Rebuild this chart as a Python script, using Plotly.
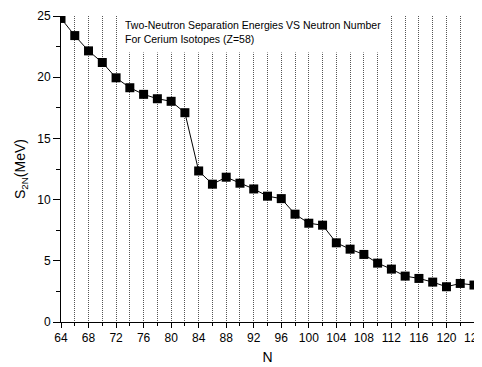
import plotly.graph_objects as go

N = [64, 66, 68, 70, 72, 74, 76, 78, 80, 82, 84, 86, 88, 90, 92, 94, 96, 98,
     100, 102, 104, 106, 108, 110, 112, 114, 116, 118, 120, 122, 124]
S2N = [24.8, 23.4, 22.15, 21.2, 19.95, 19.14, 18.6, 18.24, 18.03, 17.1, 12.34,
       11.26, 11.83, 11.34, 10.87, 10.28, 10.08, 8.81, 8.07, 7.91, 6.47, 5.95,
       5.52, 4.81, 4.32, 3.75, 3.56, 3.26, 2.88, 3.15, 3.02]

x_ticks = list(range(64, 125, 4))
y_ticks = [0, 5, 10, 15, 20, 25]

title_lines = ["Two-Neutron Separation Energies VS Neutron Number",
               "For Cerium Isotopes (Z=58)"]

FONT = "Liberation Sans, Arial, sans-serif"
GRID = "#555555"

# The page body has an 8px default margin, so the figure is sized to fit
# the 482x367 window with that offset.
fig = go.Figure()
fig.add_trace(go.Scatter(
    x=N, y=S2N, mode="lines+markers",
    line=dict(color="black", width=1),
    marker=dict(symbol="square", size=9, color="black"),
    showlegend=False,
))

fig.update_layout(
    width=474, height=359,
    margin=dict(l=53, r=8, t=8, b=45, autoexpand=False),
    paper_bgcolor="white", plot_bgcolor="white",
    font=dict(family=FONT, color="black", size=12),
    xaxis=dict(
        range=[64, 124], tickvals=x_ticks, ticktext=[str(v) for v in x_ticks],
        automargin=False,
        showline=True, linecolor="black", linewidth=1,
        ticks="outside", ticklen=5, tickcolor="black",
        ticklabeloverflow="allow",
        showgrid=True, gridcolor=GRID, griddash="1px,1px", gridwidth=1,
        minor=dict(dtick=2, tick0=64, ticks="outside", ticklen=3, tickcolor="black",
                   showgrid=True, gridcolor=GRID, griddash="1px,1px", gridwidth=1),
        zeroline=False,
        title=dict(text="N", font=dict(size=14), standoff=7),
        tickfont=dict(size=12),
    ),
    yaxis=dict(
        range=[0, 25], tickvals=y_ticks,
        automargin=False,
        showline=True, linecolor="black", linewidth=1,
        ticks="outside", ticklen=7, tickcolor="black",
        minor=dict(dtick=2.5, ticks="outside", ticklen=4, tickcolor="black"),
        showgrid=False, zeroline=False,
        title=dict(text="S<sub>2N</sub>(MeV)", font=dict(size=14), standoff=8),
        tickfont=dict(size=12),
    ),
)

fig.add_annotation(
    xref="paper", yref="paper", x=63 / 413, y=1 + 8 / 306,
    xanchor="left", yanchor="top", yshift=-3,
    text="<br>".join(title_lines), align="left", showarrow=False,
    font=dict(size=10.5, family=FONT, color="black"),
    bgcolor="white", width=264, height=40, valign="middle",
    borderpad=0,
)

fig.write_html("out.html")
